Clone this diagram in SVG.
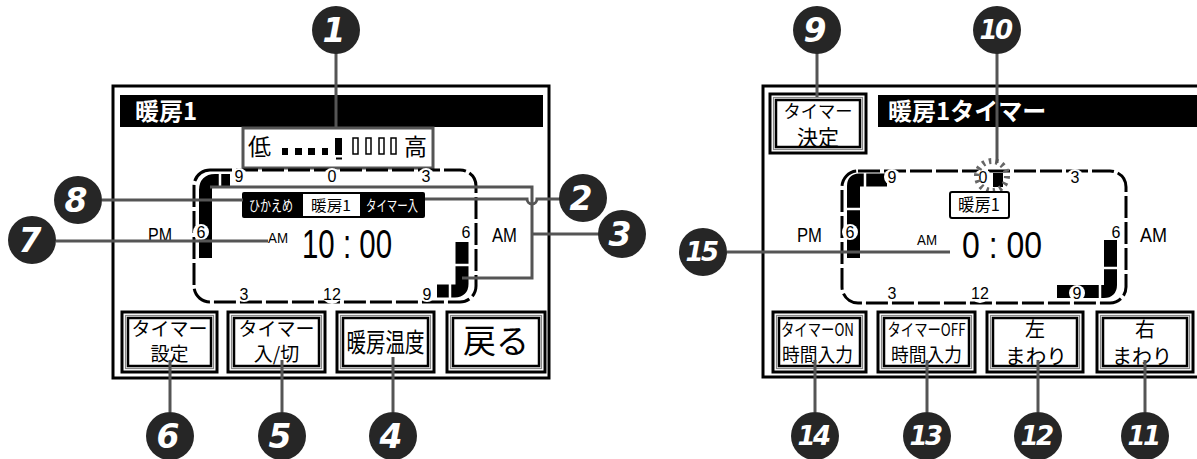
<svg xmlns="http://www.w3.org/2000/svg" width="1197" height="459" viewBox="0 0 1197 459">
<style>
.panel{fill:#fff;stroke:#000;stroke-width:3}
.bar{fill:#000}
.jp{font-family:"Noto Sans CJK JP","Liberation Sans",sans-serif}
.lat{font-family:"Liberation Sans",Arial,sans-serif}
.mid{text-anchor:middle}
.w{fill:#fff}
.b1{fill:#fff;stroke:#000;stroke-width:3}
.b2{fill:none;stroke:#888;stroke-width:1.2}
.b3{fill:#fff;stroke:#000;stroke-width:2.5}
.frame{fill:none;stroke:#000;stroke-width:3;stroke-dasharray:22 4}
.band{fill:none;stroke:#000;stroke-width:13}
.gap{stroke:#fff;stroke-width:2.5}
.ko{fill:#fff}
.cn{font-family:"Liberation Sans",Arial,sans-serif;font-size:16px;text-anchor:middle}
.conn{fill:none;stroke:#555;stroke-width:3}
.badge{fill:#262626}
.num{fill:#fff;font-family:"DejaVu Sans",sans-serif;font-weight:bold;font-style:italic;font-size:33px;text-anchor:middle}
.num2{fill:#fff;font-family:"DejaVu Sans",sans-serif;font-weight:bold;font-style:italic;font-size:26px;text-anchor:middle;letter-spacing:-2.5px}
</style>

<!-- LEFT PANEL -->
<g id="panel-left">
<rect class="panel" x="113" y="86" width="436" height="292"/>
<rect class="bar" x="120" y="95" width="423" height="32"/>
<text class="jp w" x="135" y="120" font-size="24" font-weight="bold">暖房1</text>
</g>

<g id="level">
<rect x="243" y="128" width="190" height="40" fill="#fff" stroke="#555" stroke-width="3"/>
<text class="jp" x="248" y="155" font-size="23">低</text>
<text class="jp" x="404" y="155" font-size="23">高</text>
<rect x="282" y="148" width="6" height="7"/>
<rect x="295" y="148" width="7" height="7"/>
<rect x="308" y="148" width="7" height="7"/>
<rect x="322" y="148" width="6" height="7"/>
<rect x="335" y="138" width="7" height="17"/>
<rect x="336" y="157.5" width="6" height="2"/>
<rect x="353" y="138" width="5" height="16" fill="none" stroke="#000" stroke-width="1.5"/>
<rect x="366" y="138" width="5" height="16" fill="none" stroke="#000" stroke-width="1.5"/>
<rect x="379" y="138" width="5" height="16" fill="none" stroke="#000" stroke-width="1.5"/>
<rect x="391" y="138" width="5" height="16" fill="none" stroke="#000" stroke-width="1.5"/>
</g>

<g id="clock-left">
<rect class="frame" x="194" y="170" width="282" height="132" rx="16"/>
<path class="band" d="M230,180.5 H215 Q205.5,180.5 205.5,190 V258"/>
<line class="gap" x1="220" y1="173" x2="220" y2="188"/>
<path class="band" d="M437,291 H455 Q462,291 462,284 V242"/>
<line class="gap" x1="450" y1="284" x2="450" y2="298"/>
<line class="gap" x1="455" y1="265" x2="469" y2="265"/>
<circle class="ko" cx="239" cy="176" r="8"/>
<circle class="ko" cx="332" cy="176" r="8"/>
<circle class="ko" cx="426" cy="176" r="8"/>
<circle class="ko" cx="201" cy="232" r="8"/>
<circle class="ko" cx="466" cy="232" r="8"/>
<circle class="ko" cx="244" cy="294" r="8"/>
<circle class="ko" cx="332" cy="294" r="10"/>
<circle class="ko" cx="427" cy="294" r="8"/>
<text class="cn" x="239" y="182">9</text>
<text class="cn" x="332" y="182">0</text>
<text class="cn" x="426" y="182">3</text>
<text class="cn" x="201" y="238">6</text>
<text class="cn" x="466" y="238">6</text>
<text class="cn" x="244" y="300">3</text>
<text class="cn" x="332" y="300">12</text>
<text class="cn" x="427" y="300">9</text>
<rect x="242" y="192" width="183" height="26" rx="2"/>
<rect x="303" y="194" width="57" height="22" fill="#fff"/>
<text class="jp w mid" x="271" y="211" font-size="15" textLength="44" lengthAdjust="spacingAndGlyphs">ひかえめ</text>
<text class="jp mid" x="331" y="211" font-size="15" textLength="40" lengthAdjust="spacingAndGlyphs">暖房1</text>
<text class="jp w mid" x="392" y="211" font-size="15" textLength="52" lengthAdjust="spacingAndGlyphs">タイマー入</text>
<text class="lat" x="268" y="243" font-size="14" textLength="20" lengthAdjust="spacingAndGlyphs">AM</text>
<text class="lat" x="302" y="258" font-size="41" textLength="90" lengthAdjust="spacingAndGlyphs">10 : 00</text>
<text class="lat" x="148" y="242" font-size="20" textLength="24" lengthAdjust="spacingAndGlyphs">PM</text>
<text class="lat" x="492" y="242" font-size="20" textLength="25" lengthAdjust="spacingAndGlyphs">AM</text>
</g>

<g id="btn-timer-set">
<rect class="b1" x="122" y="312" width="95" height="60"/>
<rect class="b2" x="125.5" y="315.5" width="88" height="53"/>
<rect class="b3" x="128" y="318" width="83" height="48"/>
<text class="jp mid" x="169.5" y="336" font-size="19">タイマー</text>
<text class="jp mid" x="169.5" y="361" font-size="19">設定</text>
</g>
<g id="btn-timer-onoff">
<rect class="b1" x="228" y="312" width="97" height="60"/>
<rect class="b2" x="231.5" y="315.5" width="90" height="53"/>
<rect class="b3" x="234" y="318" width="85" height="48"/>
<text class="jp mid" x="276.5" y="336" font-size="19">タイマー</text>
<text class="jp mid" x="276.5" y="361" font-size="19">入/切</text>
</g>
<g id="btn-heat-temp">
<rect class="b1" x="337" y="312" width="97" height="60"/>
<rect class="b2" x="340.5" y="315.5" width="90" height="53"/>
<rect class="b3" x="343" y="318" width="85" height="48"/>
<text class="jp mid" x="385.5" y="352" font-size="26" textLength="78" lengthAdjust="spacingAndGlyphs">暖房温度</text>
</g>
<g id="btn-back">
<rect class="b1" x="447" y="312" width="98" height="60"/>
<rect class="b2" x="450.5" y="315.5" width="91" height="53"/>
<rect class="b3" x="453" y="318" width="86" height="48"/>
<text class="jp mid" x="496" y="353" font-size="33">戻る</text>
</g>

<!-- RIGHT PANEL -->
<g id="panel-right">
<rect class="panel" x="763" y="86" width="450" height="291"/>
<rect class="bar" x="878" y="95" width="330" height="32"/>
<text class="jp w" x="888" y="120" font-size="24" font-weight="bold">暖房1タイマー</text>
</g>

<g id="btn-timer-decide">
<rect class="b1" x="770" y="94" width="96" height="59"/>
<rect class="b2" x="773.5" y="97.5" width="89" height="52"/>
<rect class="b3" x="776" y="100" width="84" height="47"/>
<text class="jp mid" x="818" y="118" font-size="18" textLength="69" lengthAdjust="spacingAndGlyphs">タイマー</text>
<text class="jp mid" x="818" y="145" font-size="21">決定</text>
</g>

<g id="clock-right">
<rect class="frame" x="842" y="171" width="284" height="132" rx="16"/>
<path class="band" d="M887,180 H859 Q853.5,180 853.5,186 V258"/>
<line class="gap" x1="865" y1="173" x2="865" y2="188"/>
<line class="gap" x1="846" y1="209" x2="861" y2="209"/>
<rect x="993" y="173" width="10" height="14"/>
<path class="band" d="M1057,291.5 H1104 Q1110.5,291.5 1110.5,285 V240"/>
<line class="gap" x1="1100" y1="284" x2="1100" y2="299"/>
<line class="gap" x1="1103" y1="268" x2="1118" y2="268"/>
<circle class="ko" cx="892" cy="177" r="8"/>
<circle class="ko" cx="983" cy="177" r="8"/>
<circle class="ko" cx="1075" cy="177" r="8"/>
<circle class="ko" cx="850" cy="232" r="8"/>
<circle class="ko" cx="1116" cy="232" r="8"/>
<circle class="ko" cx="892" cy="293" r="8"/>
<circle class="ko" cx="980" cy="293" r="10"/>
<circle class="ko" cx="1077" cy="293" r="8"/>
<text class="cn" x="892" y="183">9</text>
<text class="cn" x="983" y="183">0</text>
<text class="cn" x="1075" y="183">3</text>
<text class="cn" x="850" y="238">6</text>
<text class="cn" x="1116" y="238">6</text>
<text class="cn" x="892" y="299">3</text>
<text class="cn" x="980" y="299">12</text>
<text class="cn" x="1077" y="299">9</text>
<circle cx="992" cy="176" r="15" fill="none" stroke="#666" stroke-width="6" stroke-dasharray="2.5 4.2"/>
<rect x="950" y="192" width="59" height="26" rx="2" fill="#fff" stroke="#000" stroke-width="2"/>
<text class="jp mid" x="979" y="211" font-size="17" textLength="42" lengthAdjust="spacingAndGlyphs">暖房1</text>
<text class="lat" x="917" y="245" font-size="15" textLength="20" lengthAdjust="spacingAndGlyphs">AM</text>
<text class="lat" x="962" y="258" font-size="36" textLength="80" lengthAdjust="spacingAndGlyphs">0 : 00</text>
<text class="lat" x="797" y="242" font-size="20" textLength="25" lengthAdjust="spacingAndGlyphs">PM</text>
<text class="lat" x="1140" y="242" font-size="20" textLength="27" lengthAdjust="spacingAndGlyphs">AM</text>
</g>

<g id="btn-on-time">
<rect class="b1" x="773" y="312" width="93" height="60"/>
<rect class="b2" x="776.5" y="315.5" width="86" height="53"/>
<rect class="b3" x="779" y="318" width="81" height="48"/>
<text class="jp mid" x="817.5" y="336" font-size="17" textLength="73" lengthAdjust="spacingAndGlyphs">タイマーON</text>
<text class="jp mid" x="817.5" y="362" font-size="19" textLength="71" lengthAdjust="spacingAndGlyphs">時間入力</text>
</g>
<g id="btn-off-time">
<rect class="b1" x="878" y="312" width="97" height="60"/>
<rect class="b2" x="881.5" y="315.5" width="90" height="53"/>
<rect class="b3" x="884" y="318" width="85" height="48"/>
<text class="jp mid" x="926.5" y="336" font-size="17" textLength="78" lengthAdjust="spacingAndGlyphs">タイマーOFF</text>
<text class="jp mid" x="926.5" y="362" font-size="19" textLength="71" lengthAdjust="spacingAndGlyphs">時間入力</text>
</g>
<g id="btn-left">
<rect class="b1" x="987" y="312" width="96" height="60"/>
<rect class="b2" x="990.5" y="315.5" width="89" height="53"/>
<rect class="b3" x="993" y="318" width="84" height="48"/>
<text class="jp mid" x="1035" y="337" font-size="20">左</text>
<text class="jp mid" x="1036" y="364" font-size="20" textLength="62" lengthAdjust="spacingAndGlyphs">まわり</text>
</g>
<g id="btn-right">
<rect class="b1" x="1097" y="312" width="96" height="60"/>
<rect class="b2" x="1100.5" y="315.5" width="89" height="53"/>
<rect class="b3" x="1103" y="318" width="84" height="48"/>
<text class="jp mid" x="1145" y="337" font-size="20">右</text>
<text class="jp mid" x="1142" y="364" font-size="20" textLength="60" lengthAdjust="spacingAndGlyphs">まわり</text>
</g>

<!-- CONNECTORS -->
<g id="connectors">
<path class="conn" d="M336,53 V128"/>
<path class="conn" d="M425,199 H527 A5,5 0 0 0 537,199 H560"/>
<path class="conn" d="M210,187 H532 V278 H462 M532,234 H599"/>
<path class="conn" d="M393,412 V357"/>
<path class="conn" d="M282,412 V360"/>
<path class="conn" d="M170,412 V360"/>
<path class="conn" d="M56,241 H268"/>
<path class="conn" d="M102,200 H243"/>
<path class="conn" d="M817,53 V97"/>
<path class="conn" d="M997,53 V163"/>
<path class="conn" d="M1145,412 V360"/>
<path class="conn" d="M1038,412 V360"/>
<path class="conn" d="M927,412 V360"/>
<path class="conn" d="M815,412 V360"/>
<path class="conn" d="M727,252 H950"/>
</g>

<!-- BADGES -->
<g id="badge-1"><circle class="badge" cx="336" cy="30" r="24"/><text class="num" x="334" y="42">1</text></g>
<g id="badge-2"><circle class="badge" cx="583" cy="198" r="24"/><text class="num" x="581" y="210">2</text></g>
<g id="badge-3"><circle class="badge" cx="622" cy="234" r="24"/><text class="num" x="620" y="246">3</text></g>
<g id="badge-4"><circle class="badge" cx="393" cy="436" r="24"/><text class="num" x="391" y="448">4</text></g>
<g id="badge-5"><circle class="badge" cx="282" cy="436" r="24"/><text class="num" x="280" y="448">5</text></g>
<g id="badge-6"><circle class="badge" cx="170" cy="436" r="24"/><text class="num" x="168" y="448">6</text></g>
<g id="badge-7"><circle class="badge" cx="32" cy="240" r="24"/><text class="num" x="30" y="252">7</text></g>
<g id="badge-8"><circle class="badge" cx="78" cy="200" r="24"/><text class="num" x="76" y="212">8</text></g>
<g id="badge-9"><circle class="badge" cx="817" cy="30" r="24"/><text class="num" x="815" y="42">9</text></g>
<g id="badge-10"><circle class="badge" cx="997" cy="30" r="24"/><text class="num2" x="995" y="39">10</text></g>
<g id="badge-11"><circle class="badge" cx="1145" cy="436" r="24"/><text class="num2" x="1143" y="445">11</text></g>
<g id="badge-12"><circle class="badge" cx="1038" cy="436" r="24"/><text class="num2" x="1036" y="445">12</text></g>
<g id="badge-13"><circle class="badge" cx="927" cy="436" r="24"/><text class="num2" x="925" y="445">13</text></g>
<g id="badge-14"><circle class="badge" cx="815" cy="436" r="24"/><text class="num2" x="813" y="445">14</text></g>
<g id="badge-15"><circle class="badge" cx="703" cy="252" r="24"/><text class="num2" x="701" y="261">15</text></g>
</svg>
